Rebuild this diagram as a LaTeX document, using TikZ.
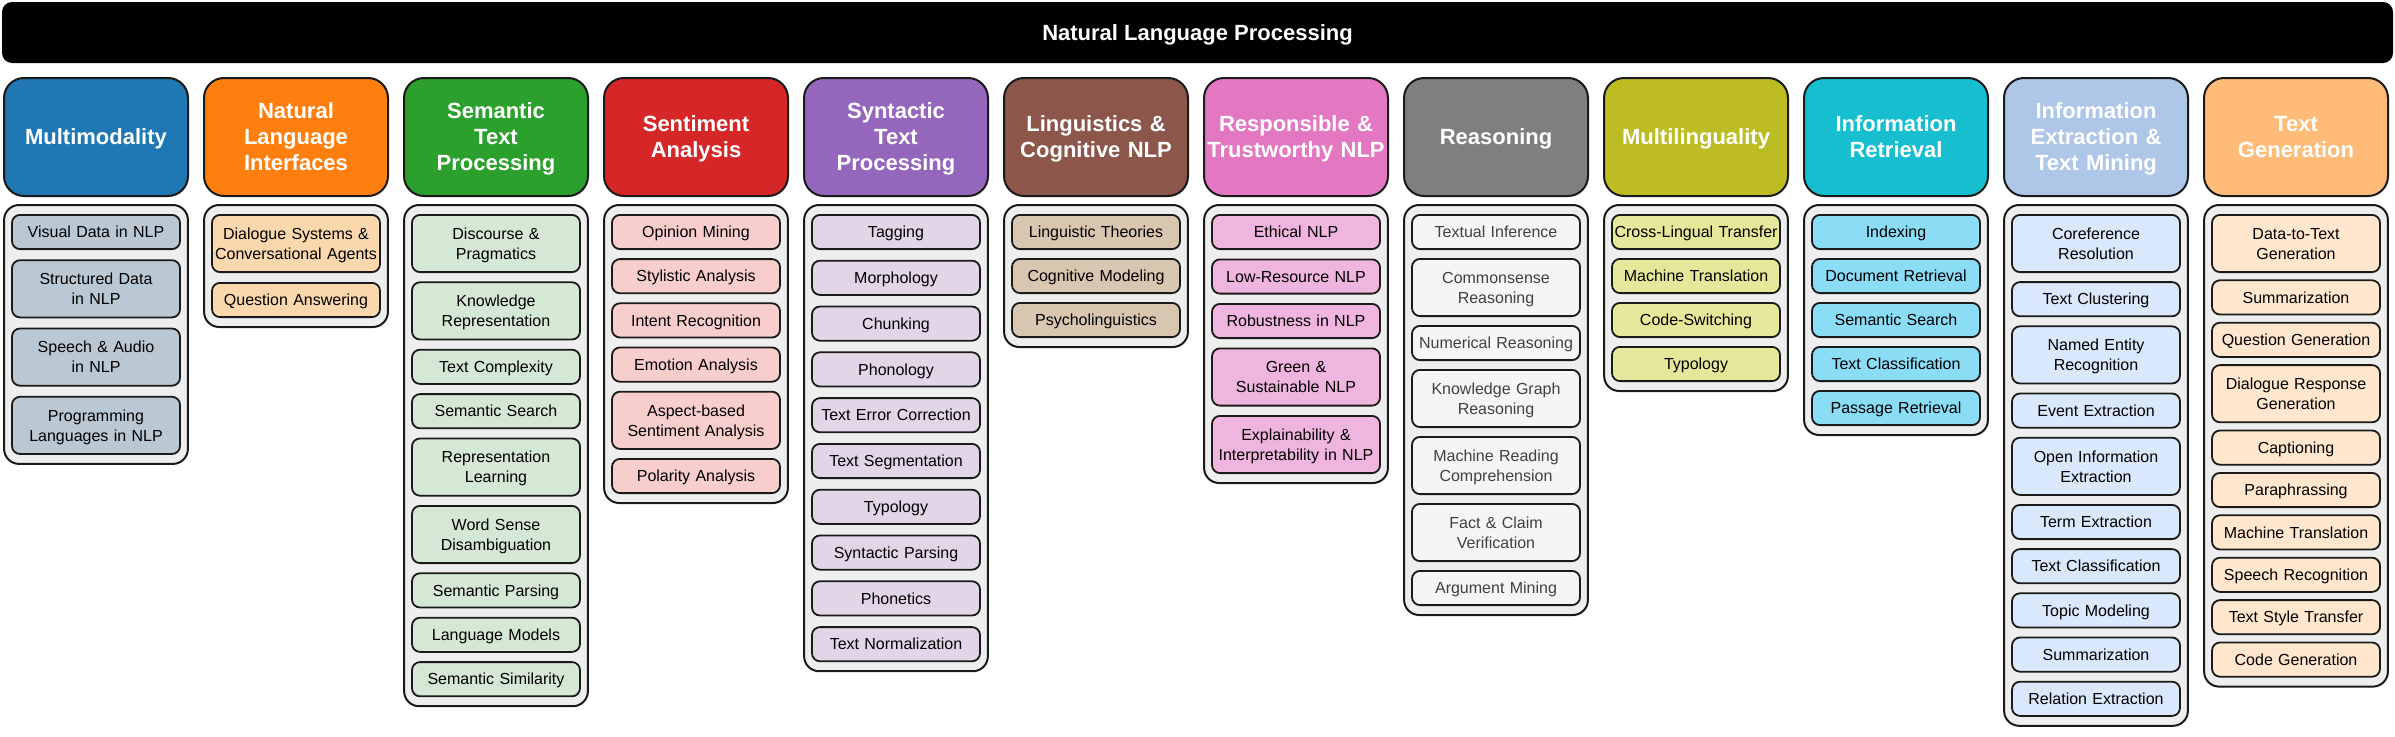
\documentclass[tikz,border=0pt]{standalone}
\usepackage{fontspec}
\setmainfont{Liberation Sans}
\usepackage{xcolor}
\usetikzlibrary{matrix,positioning}

\definecolor{framec}{HTML}{1A1A1A}
\definecolor{groupc}{HTML}{EEEEEE}
\definecolor{mmodc}{HTML}{1F77B4}\definecolor{mmodl}{HTML}{BAC8D3}
\definecolor{nlic}{HTML}{FF7F0E}\definecolor{nlil}{HTML}{FAD7AC}
\definecolor{stpc}{HTML}{2CA02C}\definecolor{stpl}{HTML}{D5E8D4}
\definecolor{sentc}{HTML}{D62728}\definecolor{sentl}{HTML}{F8CECC}
\definecolor{sync}{HTML}{9467BD}\definecolor{synl}{HTML}{E1D5E7}
\definecolor{lingc}{HTML}{8C564B}\definecolor{lingl}{HTML}{D8C6B1}
\definecolor{respc}{HTML}{E377C2}\definecolor{respl}{HTML}{F0B5DE}
\definecolor{reasc}{HTML}{7F7F7F}\definecolor{reasl}{HTML}{F5F5F5}\definecolor{reast}{HTML}{404040}
\definecolor{multc}{HTML}{BCBD22}\definecolor{multl}{HTML}{E5E89A}
\definecolor{irc}{HTML}{17BECF}\definecolor{irl}{HTML}{8BDCF5}
\definecolor{iec}{HTML}{AEC7E8}\definecolor{iel}{HTML}{DAE8FC}
\definecolor{tgc}{HTML}{FFBB78}\definecolor{tgl}{HTML}{FFE6CC}

\tikzset{
  title/.style={fill=black, rounded corners=10pt, minimum width=2391pt, minimum height=61pt,
    text=white, font=\fontsize{22}{26}\selectfont\bfseries, text height=15.75pt, text depth=0pt},
  head/.style={draw=framec, line width=2pt, rounded corners=20pt, minimum width=184pt,
    minimum height=118pt, text width=180pt, inner xsep=2pt, align=center, text=white,
    font=\fontsize{22}{26}\selectfont\bfseries, text height=15.75pt, text depth=0pt},
  h2/.style={text depth=26pt},
  h3/.style={text depth=52pt},
  group/.style={matrix of nodes, draw=framec, line width=2pt, fill=groupc,
    rounded corners=15pt, inner xsep=7pt, inner ysep=9pt},
  topic/.style={draw=framec, line width=1.8pt, rounded corners=8pt, text width=166pt,
    inner xsep=1pt, inner ysep=0pt, minimum height=34.2pt, align=center,
    font=\fontsize{16}{20}\selectfont, text height=11.5pt, text depth=0pt},
  two/.style={minimum height=57.2pt, text depth=20pt},
}

\begin{document}
\begin{tikzpicture}[x=1pt, y=1pt]
\useasboundingbox (0,0) rectangle (2395,-736);
\node (nlp) [title] at (1197.5,-32.5) {Natural Language Processing};

% category headers
\node (mmod) [head, fill=mmodc] at (96,-137) {Multimodality};
\node (nli) [head, h3, fill=nlic, right=14pt of mmod] {Natural\\Language\\Interfaces};
\node (stp) [head, h3, fill=stpc, right=14pt of nli] {Semantic\\Text\\Processing};
\node (sent) [head, h2, fill=sentc, right=14pt of stp] {Sentiment\\Analysis};
\node (syn) [head, h3, fill=sync, right=14pt of sent] {Syntactic\\Text\\Processing};
\node (ling) [head, h2, fill=lingc, right=14pt of syn] {Linguistics \&\\Cognitive NLP};
\node (resp) [head, h2, fill=respc, right=14pt of ling] {Responsible \&\\Trustworthy NLP};
\node (reas) [head, fill=reasc, right=14pt of resp] {Reasoning};
\node (mult) [head, fill=multc, right=14pt of reas] {Multilinguality};
\node (ir) [head, h2, fill=irc, right=14pt of mult] {Information\\Retrieval};
\node (ie) [head, h3, fill=iec, right=14pt of ir] {Information\\Extraction \&\\Text Mining};
\node (tg) [head, h2, fill=tgc, right=14pt of ie] {Text\\Generation};

% sub-topic lists
\matrix (mmodlist) [group, below=7pt of mmod, row sep=9.3pt, nodes={topic, fill=mmodl}] {
Visual Data in NLP\\
|[two]| {Structured Data\\in NLP}\\
|[two]| {Speech \& Audio\\in NLP}\\
|[two]| {Programming\\Languages in NLP}\\
};
\matrix (nlilist) [group, below=7pt of nli, row sep=9pt, nodes={topic, fill=nlil}] {
|[two]| {Dialogue Systems \&\\Conversational Agents}\\
Question Answering\\
};
\matrix (stplist) [group, below=7pt of stp, row sep=8.4pt, nodes={topic, fill=stpl}] {
|[two]| {Discourse \&\\Pragmatics}\\
|[two]| {Knowledge\\Representation}\\
Text Complexity\\
Semantic Search\\
|[two]| {Representation\\Learning}\\
|[two]| {Word Sense\\Disambiguation}\\
Semantic Parsing\\
Language Models\\
Semantic Similarity\\
};
\matrix (sentlist) [group, below=7pt of sent, row sep=8.2pt, nodes={topic, fill=sentl}] {
Opinion Mining\\
Stylistic Analysis\\
Intent Recognition\\
Emotion Analysis\\
|[two]| {Aspect-based\\Sentiment Analysis}\\
Polarity Analysis\\
};
\matrix (synlist) [group, below=7pt of syn, row sep=9.8pt, nodes={topic, fill=synl}] {
Tagging\\
Morphology\\
Chunking\\
Phonology\\
Text Error Correction\\
Text Segmentation\\
Typology\\
Syntactic Parsing\\
Phonetics\\
Text Normalization\\
};
\matrix (linglist) [group, below=7pt of ling, row sep=8pt, nodes={topic, fill=lingl}] {
Linguistic Theories\\
Cognitive Modeling\\
Psycholinguistics\\
};
\matrix (resplist) [group, below=7pt of resp, row sep=8.5pt, nodes={topic, fill=respl}] {
Ethical NLP\\
Low-Resource NLP\\
Robustness in NLP\\
|[two]| {Green \&\\Sustainable NLP}\\
|[two]| {Explainability \&\\Interpretability in NLP}\\
};
\matrix (reaslist) [group, below=7pt of reas, row sep=8pt, nodes={topic, fill=reasl, text=reast}] {
Textual Inference\\
|[two]| {Commonsense\\Reasoning}\\
Numerical Reasoning\\
|[two]| {Knowledge Graph\\Reasoning}\\
|[two]| {Machine Reading\\Comprehension}\\
|[two]| {Fact \& Claim\\Verification}\\
Argument Mining\\
};
\matrix (multlist) [group, below=7pt of mult, row sep=8pt, nodes={topic, fill=multl}] {
Cross-Lingual Transfer\\
Machine Translation\\
Code-Switching\\
Typology\\
};
\matrix (irlist) [group, below=7pt of ir, row sep=8pt, nodes={topic, fill=irl}] {
Indexing\\
Document Retrieval\\
Semantic Search\\
Text Classification\\
Passage Retrieval\\
};
\matrix (ielist) [group, below=7pt of ie, row sep=8.2pt, nodes={topic, fill=iel}] {
|[two]| {Coreference\\Resolution}\\
Text Clustering\\
|[two]| {Named Entity\\Recognition}\\
Event Extraction\\
|[two]| {Open Information\\Extraction}\\
Term Extraction\\
Text Classification\\
Topic Modeling\\
Summarization\\
Relation Extraction\\
};
\matrix (tglist) [group, below=7pt of tg, row sep=6.4pt, nodes={topic, fill=tgl}] {
|[two]| {Data-to-Text\\Generation}\\
Summarization\\
Question Generation\\
|[two]| {Dialogue Response\\Generation}\\
Captioning\\
Paraphrassing\\
Machine Translation\\
Speech Recognition\\
Text Style Transfer\\
Code Generation\\
};
\end{tikzpicture}
\end{document}
